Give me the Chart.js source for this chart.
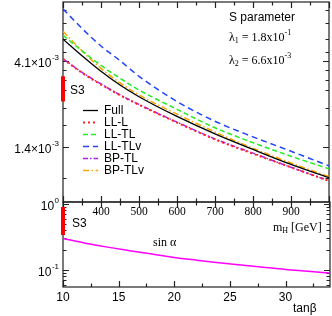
<!DOCTYPE html>
<html>
<head>
<meta charset="utf-8">
<script src="https://cdn.jsdelivr.net/npm/chart.js@4.4.0/dist/chart.umd.min.js"></script>
<style>
  html, body { margin: 0; padding: 0; background: #fff; }
  #wrap { position: relative; width: 332px; height: 316px; }
  #wrap canvas { position: absolute; left: 0; top: 0; }
</style>
</head>
<body>
<div id="wrap">
  <canvas id="sChart" width="332" height="316"></canvas>
  <canvas id="sinChart" width="332" height="316"></canvas>
</div>
<script>
// S parameter vs m_H, values in units of 1e-3
const mH      = [300, 350, 400, 450, 500, 600, 700, 800, 900, 1000];
const sFull   = [5.36, 4.36, 3.59, 3.02, 2.61, 2.04, 1.64, 1.35, 1.12, 0.948];
const sLLL    = [4.18, 3.52, 3.04, 2.66, 2.36, 1.89, 1.53, 1.28, 1.08, 0.91];
const sLLTL   = [5.63, 4.63, 3.86, 3.29, 2.84, 2.23, 1.77, 1.47, 1.24, 1.06];
const sLLTLv  = [7.83, 6.13, 4.92, 4.10, 3.37, 2.46, 1.92, 1.58, 1.32, 1.10];
const sBPTL   = [4.20, 3.54, 3.06, 2.67, 2.37, 1.90, 1.54, 1.29, 1.08, 0.913];
const sBPTLv  = [5.91, 4.63, 3.72, 3.10, 2.67, 2.10, 1.68, 1.37, 1.14, 0.96];
const sS3     = [2.46, 3.37];
const sMajor  = [1.4, 4.1];
const sMinor  = [0.95, 1.83, 2.28, 2.84, 3.21, 3.63, 4.58, 5.36, 6.6, 7.74];
const mHTicks = [300, 350, 400, 450, 500, 550, 600, 650, 700, 750, 800, 850, 900, 950, 1000];
const mHLabels = [400, 500, 600, 700, 800, 900];

// sin(alpha) vs tan(beta)
const tanBeta  = [10, 12, 14, 16, 18, 20, 22, 24, 26, 28, 30, 32, 34];
const sinAlpha = [0.30, 0.255, 0.222, 0.196, 0.174, 0.155, 0.141, 0.129, 0.119, 0.110, 0.102, 0.096, 0.090];
const sinS3    = [0.339, 0.90];
const sinMajor = [1, 0.1];
const sinMinor = [0.9, 0.8, 0.7, 0.6, 0.5, 0.4, 0.3, 0.2, 0.09, 0.08, 0.07, 0.06];
const tbTicks  = [10, 12.5, 15, 17.5, 20, 22.5, 25, 27.5, 30, 32.5];
const tbLabels = [10, 15, 20, 25, 30];

const SANS = '"Liberation Sans", Arial, sans-serif';
const SERIF = '"Liberation Serif", "Times New Roman", serif';

function drawRich(ctx, x, y, parts, size, family) {
  ctx.textAlign = 'left';
  ctx.textBaseline = 'middle';
  ctx.fillStyle = '#000';
  parts.forEach(p => {
    const small = p.sub || p.sup;
    ctx.font = (small ? 8 : size) + 'px ' + family;
    const dy = p.sub ? 3 : (p.sup ? -5 : 0);
    ctx.fillText(p.t, x, y + dy);
    x += ctx.measureText(p.t).width;
  });
}

// frame with inward ticks on every side, plus powers-of-ten labels
const frameTicks = {
  id: 'frameTicks',
  beforeDatasetsDraw(chart, args, o) {
    const { ctx, chartArea: a, scales } = chart;
    ctx.save();
    ctx.strokeStyle = '#222';
    ctx.lineWidth = 1.2;
    ctx.strokeRect(a.left, a.top, a.right - a.left, a.bottom - a.top);
    ctx.beginPath();
    scales.x.ticks.forEach(t => {
      const px = Math.round(scales.x.getPixelForValue(t.value)) + 0.5;
      const len = t.big ? 6 : 3.5;
      if (o.xBottom) { ctx.moveTo(px, a.bottom); ctx.lineTo(px, a.bottom - len); }
      if (o.xTop) { ctx.moveTo(px, a.top); ctx.lineTo(px, a.top + len); }
      if (o.xBelow) { ctx.moveTo(px, a.bottom); ctx.lineTo(px, a.bottom + len); }
    });
    scales.y.ticks.forEach(t => {
      const py = Math.round(scales.y.getPixelForValue(t.value)) + 0.5;
      const len = t.big ? 6 : 3.5;
      ctx.moveTo(a.left, py); ctx.lineTo(a.left + len, py);
      ctx.moveTo(a.right, py); ctx.lineTo(a.right - len, py);
    });
    ctx.stroke();

    ctx.fillStyle = '#000';
    (o.yLabels || []).forEach(l => {
      const py = scales.y.getPixelForValue(l.v);
      ctx.font = '8px ' + SANS;
      const ew = ctx.measureText(l.exp).width;
      ctx.textAlign = 'right';
      ctx.textBaseline = 'middle';
      ctx.fillText(l.exp, 59, py - 3);
      ctx.font = '12px ' + SANS;
      ctx.fillText(l.base, 59 - ew - 0.5, py + 3);
    });
    ctx.restore();
  },
  afterDraw(chart, args, o) {
    const ctx = chart.ctx;
    ctx.save();
    (o.notes || []).forEach(n => drawRich(ctx, n.x, n.y, n.parts, n.size || 12, n.family));
    if (o.legend) {
      const ds = chart.data.datasets;
      o.legend.forEach((idx, i) => {
        const d = ds[idx];
        const y = 110.5 + 12 * i;
        ctx.beginPath();
        ctx.setLineDash(d.borderDash || []);
        ctx.strokeStyle = d.borderColor;
        ctx.lineWidth = d.borderWidth;
        ctx.moveTo(83, y);
        ctx.lineTo(98, y);
        ctx.stroke();
        ctx.setLineDash([]);
        ctx.fillStyle = '#000';
        ctx.font = '12px ' + SANS;
        ctx.textAlign = 'left';
        ctx.textBaseline = 'middle';
        ctx.fillText(d.label, 104, y);
      });
    }
    ctx.restore();
  }
};

const lineDs = (label, xs, ys, color, width, dash) => ({
  label,
  data: xs.map((x, i) => ({ x: x, y: ys[i] })),
  borderColor: color,
  borderWidth: width,
  borderDash: dash,
  pointRadius: 0,
  fill: false,
  cubicInterpolationMode: 'monotone'
});

const bandDs = (x, ys) => ({
  label: 'S3',
  data: ys.map(v => ({ x: x, y: v })),
  borderColor: '#ff0000',
  borderWidth: 4,
  borderCapStyle: 'butt',
  pointRadius: 0,
  clip: false
});

const flatGrid = { display: false, drawTicks: false };

new Chart(document.getElementById('sChart'), {
  type: 'line',
  data: {
    datasets: [
      lineDs('Full', mH, sFull, '#000000', 1.3, []),
      lineDs('LL-L', mH, sLLL, '#ff2020', 2, [2, 3]),
      lineDs('LL-TL', mH, sLLTL, '#22ee22', 1.5, [5, 3]),
      lineDs('LL-TLv', mH, sLLTLv, '#2244ff', 1.5, [6, 4]),
      lineDs('BP-TL', mH, sBPTL, '#aa22ee', 1.5, [5, 2, 1.5, 2]),
      lineDs('BP-TLv', mH, sBPTLv, '#ffa500', 1.5, [6, 2.5, 1.5, 2.5]),
      bandDs(mH[0], sS3)
    ]
  },
  options: {
    responsive: false,
    animation: false,
    devicePixelRatio: 1,
    layout: { padding: { top: 2, right: 2, bottom: 94, left: 0 } },
    plugins: {
      legend: { display: false },
      tooltip: { enabled: false },
      frameTicks: {
        xTop: true, xBottom: true, xBelow: true,
        yLabels: [{ v: 1.4, base: '1.4×10', exp: '-3' }, { v: 4.1, base: '4.1×10', exp: '-3' }],
        legend: [0, 1, 2, 3, 4, 5],
        notes: [
          { x: 229, y: 18, family: SANS, parts: [{ t: 'S parameter' }] },
          { x: 229, y: 38, family: SERIF, parts: [{ t: 'λ' }, { t: '1', sub: true }, { t: ' = 1.8x10' }, { t: '-1', sup: true }] },
          { x: 229, y: 61, family: SERIF, parts: [{ t: 'λ' }, { t: '2', sub: true }, { t: ' = 6.6x10' }, { t: '-3', sup: true }] },
          { x: 70, y: 91, family: SANS, parts: [{ t: 'S3' }] }
        ]
      }
    },
    scales: {
      x: {
        type: 'linear', min: 300, max: 1000,
        grid: flatGrid, border: { display: false },
        afterBuildTicks: s => { s.ticks = mHTicks.map(v => ({ value: v, big: v % 100 === 0 })); },
        afterFit: s => { s.height = 20; },
        ticks: {
          autoSkip: false, maxRotation: 0, padding: 3, color: '#000',
          font: { family: 'Liberation Serif', size: 11.5 },
          callback: v => mHLabels.includes(v) ? String(v) : ''
        }
      },
      y: {
        type: 'logarithmic', min: 0.742, max: 8.53,
        grid: flatGrid, border: { display: false },
        afterBuildTicks: s => { s.ticks = sMajor.concat(sMinor).map(v => ({ value: v, big: sMajor.includes(v) })); },
        afterFit: s => { s.width = 63; },
        ticks: { display: false }
      }
    }
  },
  plugins: [frameTicks]
});

new Chart(document.getElementById('sinChart'), {
  type: 'line',
  data: {
    datasets: [
      lineDs('sin α', tanBeta, sinAlpha, '#ff00ff', 1.5, []),
      bandDs(tanBeta[0], sinS3)
    ]
  },
  options: {
    responsive: false,
    animation: false,
    devicePixelRatio: 1,
    layout: { padding: { top: 202, right: 2, bottom: 0, left: 0 } },
    plugins: {
      legend: { display: false },
      tooltip: { enabled: false },
      frameTicks: {
        xTop: false, xBottom: true, xBelow: false,
        yLabels: [{ v: 1, base: '10', exp: '0' }, { v: 0.1, base: '10', exp: '-1' }],
        notes: [
          { x: 72, y: 224, family: SANS, parts: [{ t: 'S3' }] },
          { x: 273, y: 228, family: SERIF, parts: [{ t: 'm' }, { t: 'H', sub: true }, { t: ' [GeV]' }] },
          { x: 153, y: 243, family: SERIF, parts: [{ t: 'sin α' }] },
          { x: 293, y: 309, family: SANS, parts: [{ t: 'tanβ' }] }
        ]
      }
    },
    scales: {
      x: {
        type: 'linear', min: 10, max: 34,
        grid: flatGrid, border: { display: false },
        afterBuildTicks: s => { s.ticks = tbTicks.map(v => ({ value: v, big: v % 5 === 0 })); },
        afterFit: s => { s.height = 29; },
        ticks: {
          autoSkip: false, maxRotation: 0, padding: 3, color: '#000',
          font: { family: 'Liberation Sans', size: 12 },
          callback: v => tbLabels.includes(v) ? String(v) : ''
        }
      },
      y: {
        type: 'logarithmic', min: 0.0553, max: 1.07,
        grid: flatGrid, border: { display: false },
        afterBuildTicks: s => { s.ticks = sinMajor.concat(sinMinor).map(v => ({ value: v, big: sinMajor.includes(v) })); },
        afterFit: s => { s.width = 63; },
        ticks: { display: false }
      }
    }
  },
  plugins: [frameTicks]
});
</script>
</body>
</html>
